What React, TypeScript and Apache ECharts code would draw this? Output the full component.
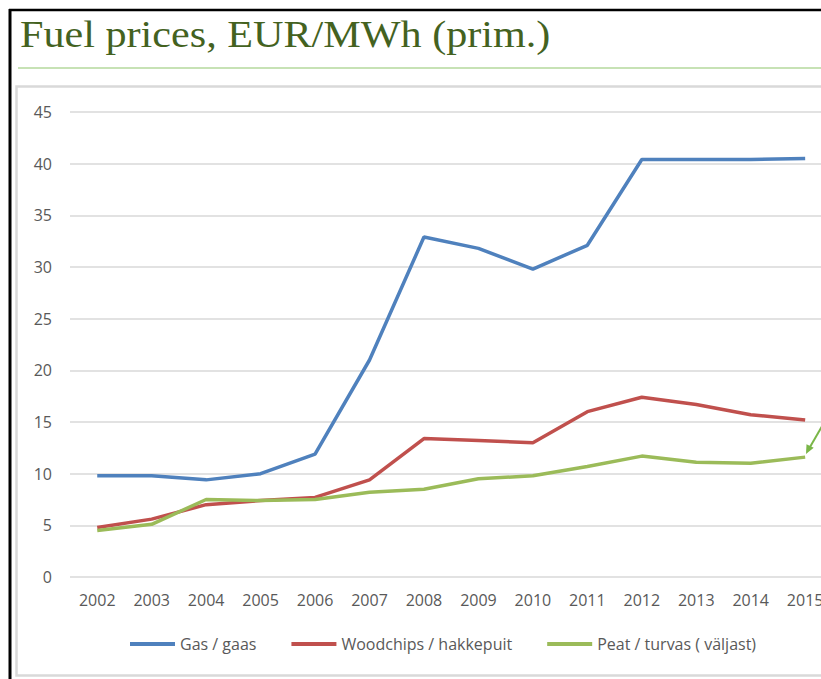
import React, { useEffect, useRef } from "react";
import * as echarts from "echarts";

const years = ["2002", "2003", "2004", "2005", "2006", "2007", "2008", "2009", "2010", "2011", "2012", "2013", "2014", "2015"];
const gas = [9.8, 9.8, 9.4, 10.0, 11.9, 21.0, 32.9, 31.8, 29.8, 32.1, 40.4, 40.4, 40.4, 40.5];
const woodchips = [4.8, 5.6, 7.0, 7.4, 7.7, 9.4, 13.4, 13.2, 13.0, 16.0, 17.4, 16.7, 15.7, 15.2];
const peat = [4.5, 5.1, 7.5, 7.4, 7.5, 8.2, 8.5, 9.5, 9.8, 10.7, 11.7, 11.1, 11.0, 11.6];
const seriesNames = ["Gas / gaas", "Woodchips / hakkepuit", "Peat / turvas ( väljast)"];
const titleText = "Fuel prices, EUR/MWh (prim.)";

const FONT = '"Open Sans", "Noto Sans", sans-serif';

export default function App() {
  const ref = useRef<HTMLDivElement>(null);
  useEffect(() => {
    if (!ref.current) return;
    const chart = echarts.init(ref.current, undefined, { renderer: "svg" });
    const colors = ["#4f81bd", "#c0504d", "#9bbb59"];
    const data = [gas, woodchips, peat];
    chart.setOption({
      animation: false,
      backgroundColor: "#ffffff",
      color: colors,
      grid: { left: 70, top: 112, height: 465, width: 762.4, containLabel: false },
      legend: {
        data: seriesNames,
        left: 125,
        top: 631,
        itemWidth: 45,
        itemHeight: 4,
        itemGap: 35,
        icon: "rect",
        textStyle: { color: "#595959", fontSize: 16, fontFamily: FONT },
      },
      xAxis: {
        type: "category",
        data: years,
        boundaryGap: true,
        axisLine: { show: false },
        axisTick: { show: false },
        axisLabel: { color: "#595959", fontSize: 16, fontFamily: FONT, margin: 15, interval: 0 },
      },
      yAxis: {
        type: "value",
        min: 0,
        max: 45,
        interval: 5,
        axisLine: { show: false },
        axisTick: { show: false },
        axisLabel: { color: "#595959", fontSize: 16, fontFamily: FONT, margin: 18 },
        splitLine: { lineStyle: { color: "#d9d9d9", width: 1.5 } },
      },
      series: seriesNames.map((name, i) => ({
        name,
        type: "line",
        data: data[i],
        symbol: "none",
        smooth: false,
        lineStyle: { width: 3.5, color: colors[i] },
        itemStyle: { color: colors[i] },
      })),
      graphic: [
        {
          type: "rect",
          shape: { x: 16.5, y: 86.5, width: 840, height: 589 },
          style: { fill: "none", stroke: "#d9d9d9", lineWidth: 2.5 },
          silent: true,
        },
        {
          type: "line",
          shape: { x1: 10, y1: 9, x2: 10, y2: 679 },
          style: { stroke: "#000000", lineWidth: 3 },
          silent: true,
        },
        {
          type: "line",
          shape: { x1: 9, y1: 10, x2: 860, y2: 10 },
          style: { stroke: "#000000", lineWidth: 2.5 },
          silent: true,
        },
        {
          type: "line",
          shape: { x1: 18, y1: 68, x2: 860, y2: 68 },
          style: { stroke: "#b5d99c", lineWidth: 1.5 },
          silent: true,
        },
        {
          type: "text",
          x: 20,
          y: 34,
          scaleX: 1.11,
          style: {
            text: titleText,
            x: 0,
            y: 0,
            fill: "#44621f",
            font: '38px "Liberation Serif", "Times New Roman", serif',
            verticalAlign: "middle",
            align: "left",
          },
          silent: true,
        },
        {
          type: "line",
          shape: { x1: 825, y1: 421, x2: 810, y2: 447 },
          style: { stroke: "#7ab648", lineWidth: 2 },
          silent: true,
        },
        {
          type: "polygon",
          shape: { points: [[806, 454], [813.7, 447.8], [806.5, 444.2]] },
          style: { fill: "#7ab648" },
          silent: true,
        },
      ],
    });
    return () => chart.dispose();
  }, []);
  return (
    <div style={{ position: "absolute", left: 0, top: 0, width: 821, height: 679, overflow: "hidden" }}>
      <div ref={ref} style={{ position: "absolute", left: 0, top: 0, width: 860, height: 679 }} />
    </div>
  );
}
